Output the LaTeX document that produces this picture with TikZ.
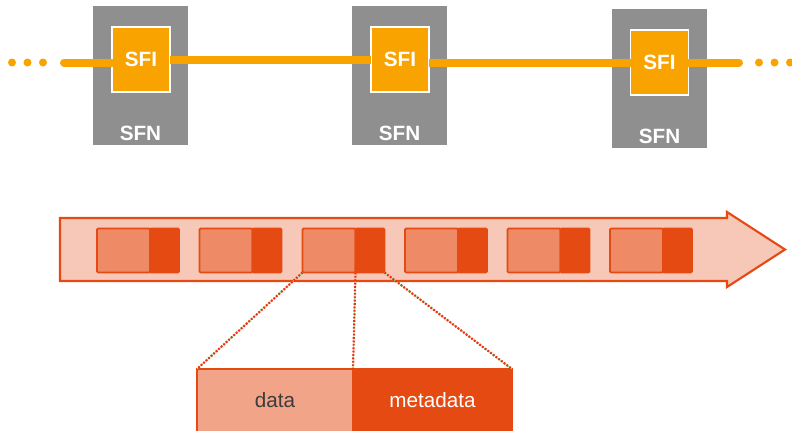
\documentclass[tikz,border=0pt]{standalone}
\usepackage{fontspec}
\setmainfont{Liberation Sans}
\definecolor{sfngray}{HTML}{8F8F8F}
\definecolor{sfiorange}{HTML}{F9A300}
\definecolor{redc}{HTML}{E64A13}
\definecolor{dotred}{HTML}{F0300C}
\definecolor{lightc}{HTML}{EE8A66}
\definecolor{palec}{HTML}{F7C8B8}
\definecolor{datac}{HTML}{F2A488}
\definecolor{txtgray}{HTML}{3C3C3C}
\definecolor{greenc}{HTML}{9FE09F}
\begin{document}
\begin{tikzpicture}[x=0.75pt,y=-0.75pt,
  sfnbox/.style={fill=sfngray, minimum width=95*0.75pt, minimum height=139*0.75pt, inner sep=0pt, outer sep=0pt},
  sfibox/.style={fill=sfiorange, draw=white, line width=0.8pt, minimum width=58*0.75pt, minimum height=65*0.75pt,
    text=white, font=\bfseries\fontsize{15.5}{18}\selectfont, inner sep=0pt, outer sep=0pt},
  sfnlabel/.style={text=white, font=\bfseries\fontsize{15.5}{18}\selectfont, inner sep=0pt},
  link/.style={draw=sfiorange, line width=8*0.75pt, line cap=round},
  dotsline/.style={link, dash pattern=on 0pt off 15.5*0.75pt},
  lightpart/.style={fill=lightc, draw=redc, line width=1.3pt, minimum width=53*0.75pt, minimum height=44*0.75pt, inner sep=0pt, outer sep=0pt, rounded corners=0.8pt},
  darkpart/.style={fill=redc, draw=redc, line width=1.3pt, minimum width=29*0.75pt, minimum height=44*0.75pt, inner sep=0pt, outer sep=0pt, rounded corners=0.8pt},
  zoomline/.style={draw=dotred, line width=2.2*0.75pt, dash pattern=on 1.8*0.75pt off 1.6*0.75pt,
    preaction={draw=greenc, line width=0.6pt, solid}},
  databox/.style={fill=datac, draw=redc, line width=0.8pt, minimum width=156*0.75pt, minimum height=63*0.75pt,
    inner sep=0pt, outer sep=0pt, text=txtgray, font=\fontsize{15.5}{18}\selectfont},
  metabox/.style={fill=redc, draw=redc, line width=0.8pt, minimum width=159*0.75pt, minimum height=63*0.75pt,
    inner sep=0pt, outer sep=0pt, text=white, font=\fontsize{15.5}{18}\selectfont}
]
\useasboundingbox (0,0) rectangle (792,430);
\clip (0,0) rectangle (792,430);

% SFN boxes
\node[sfnbox] (sfn1) at (140.5,75.5) {};
\node[sfnbox] (sfn2) at (399.5,75.5) {};
\node[sfnbox] (sfn3) at (659.5,78.5) {};
\node[sfnlabel] (sfnl1) at (140.5,133) {SFN};
\node[sfnlabel] (sfnl2) at (399.5,133) {SFN};
\node[sfnlabel] (sfnl3) at (659.5,136) {SFN};

% links
\coordinate (l0) at (64,62.5);
\coordinate (r0) at (739,62.5);
\draw[dotsline] (12,62.5) -- (44,62.5);
\draw[dotsline] (759,62.5) -- (792,62.5);

% SFI boxes
\node[sfibox] (sfi1) at (141,59.5) {SFI};
\node[sfibox] (sfi2) at (400,59.5) {SFI};
\node[sfibox] (sfi3) at (659.5,62.5) {SFI};

\draw[link] (l0) -- (l0 -| sfi1.west);
\draw[link, line cap=butt] (sfi1.east) -- (sfi2.west);
\draw[link, line cap=butt] (sfi2.east |- sfi3.west) -- (sfi3.west);
\draw[link] (r0) -- (sfi3.east);

% stream arrow
\filldraw[fill=palec, draw=redc, line width=1.6pt, line join=miter]
  (60,218) -- (727,218) -- (727,212) -- (785,249.5) -- (727,287) -- (727,281) -- (60,281) -- cycle;

% packets
\foreach \i/\x in {1/97,2/199.5,3/302.5,4/405,5/507.5,6/610}{
  \node[lightpart] (p\i l) at ({\x+26.5},250.5) {};
  \node[darkpart] (p\i d) at ({\x+53+14.5},250.5) {};
}

% zoomed packet
\node[databox] (data) at (275,400.5) {data};
\node[metabox] (meta) at (432.5,400.5) {metadata};

\draw[zoomline] (p3l.south west) -- (data.north west);
\draw[zoomline] (p3l.south east) -- (data.north east);
\draw[zoomline] (p3d.south east) -- (meta.north east);
\end{tikzpicture}
\end{document}
